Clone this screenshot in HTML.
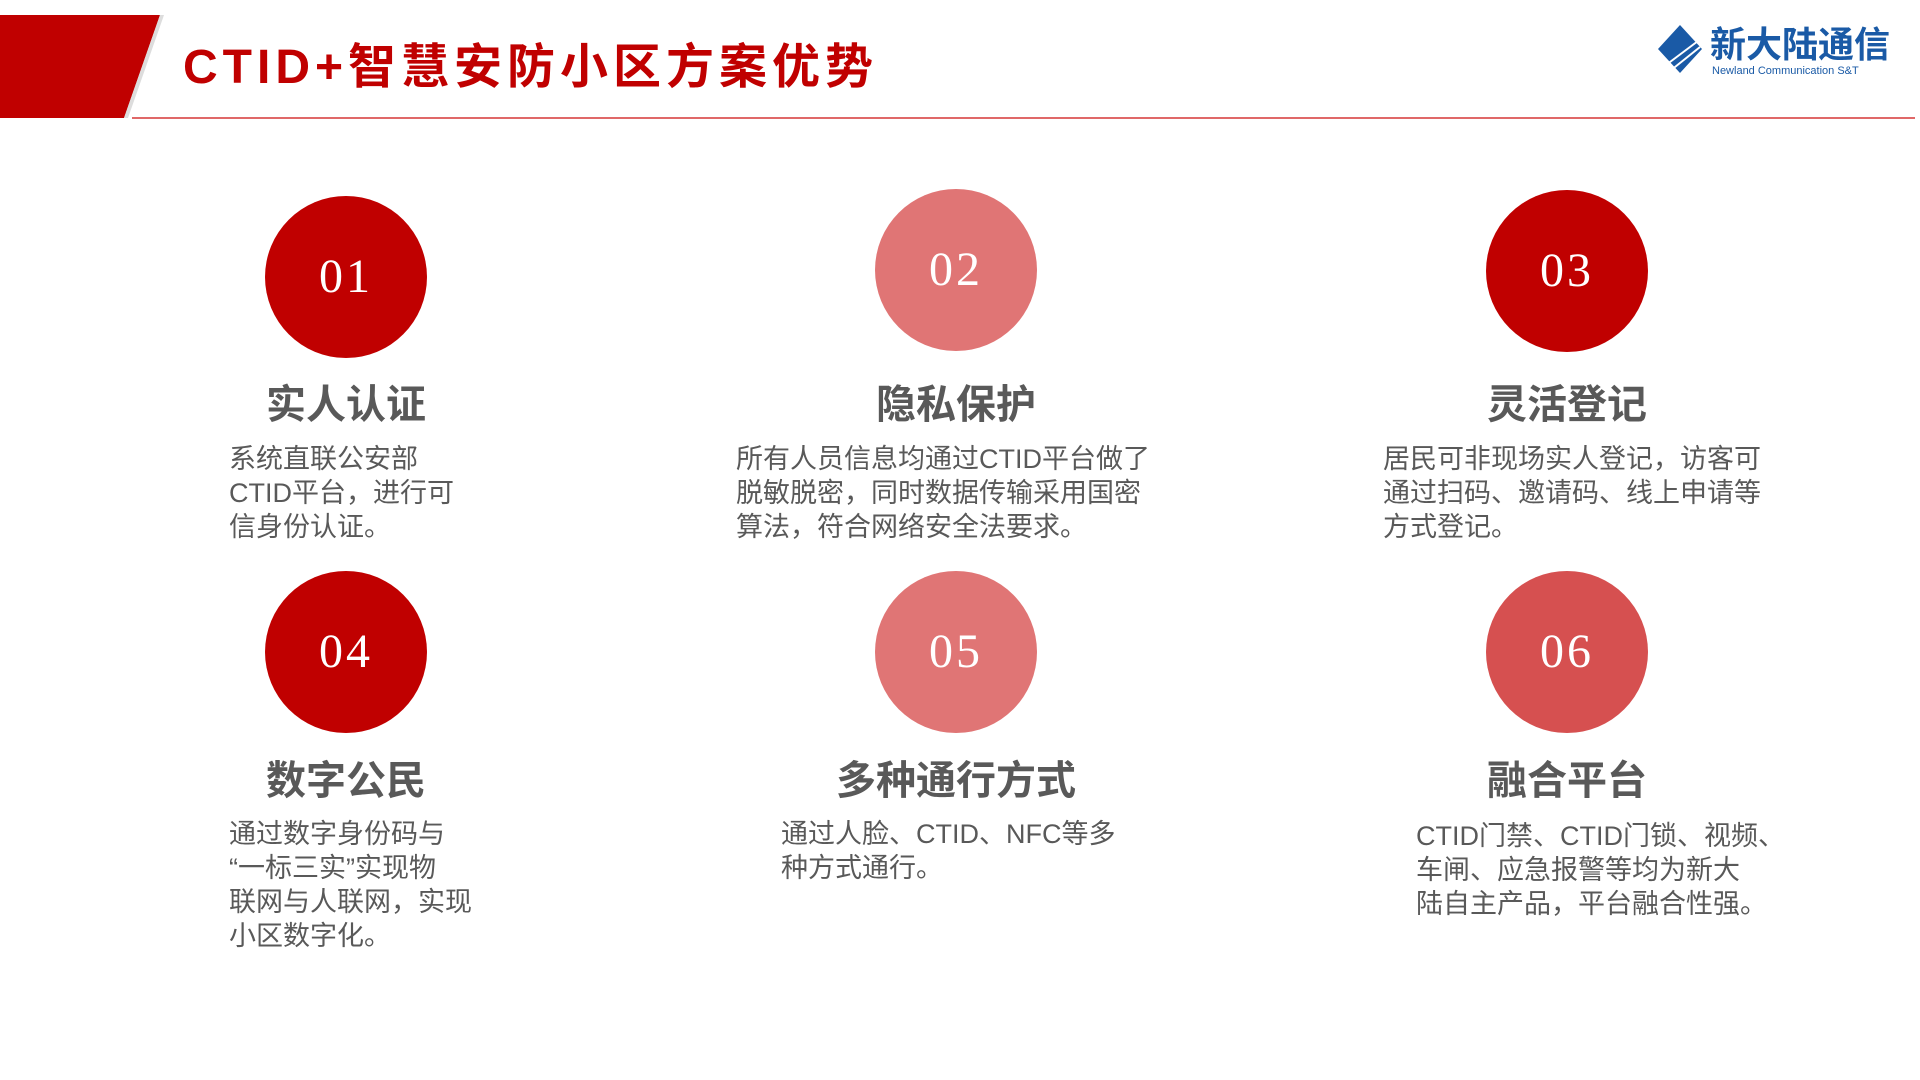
<!DOCTYPE html>
<html><head><meta charset="utf-8"><style>
body{margin:0;width:1920px;height:1080px;background:#fff;position:relative;overflow:hidden;font-family:"Liberation Sans","Noto Sans CJK SC",sans-serif}
.a{position:absolute}
.c{position:absolute;width:162px;height:162px;border-radius:50%;color:#fff;font-family:"Liberation Serif",serif;font-size:48px;line-height:162px;text-align:center;letter-spacing:3px}
.t{position:absolute;width:400px;text-align:center;font-size:40px;font-weight:bold;color:#595959;line-height:50px}
.b{position:absolute;font-size:27px;line-height:34px;color:#595959;white-space:nowrap}
</style></head><body>
<svg class="a" style="left:0;top:0" width="170" height="125"><polygon points="0,15 160,15 124,118 0,118" fill="#c00000"/><polygon points="160,15 164,15 128,118 124,118" fill="#ddd"/></svg>
<div class="a" style="left:183px;top:38px;font-size:48px;font-weight:bold;color:#c00000;line-height:60px;letter-spacing:5px">CTID+智慧安防小区方案优势</div>
<div class="a" style="left:132px;top:117px;width:1783px;height:2px;background:#e06868"></div>
<svg class="a" style="left:1658px;top:25px" width="50" height="60"><polygon points="22,0 44,24 22,48 0,24" fill="#1a5aa6"/><g stroke="#fff" stroke-width="2"><line x1="8" y1="40" x2="40" y2="16"/><line x1="12" y1="46" x2="42" y2="22"/></g></svg>
<div class="a" style="left:1710px;top:24px;font-size:36px;font-weight:bold;color:#1a5aa6;line-height:42px">新大陆通信</div>
<div class="a" style="left:1712px;top:65px;font-size:11px;color:#1a5aa6">Newland Communication S&amp;T</div>

<div class="c" style="left:265px;top:196px;background:#c00000">01</div>
<div class="c" style="left:875px;top:189px;background:#e07575">02</div>
<div class="c" style="left:1486px;top:190px;background:#c00000">03</div>
<div class="c" style="left:265px;top:571px;background:#c00000">04</div>
<div class="c" style="left:875px;top:571px;background:#e07575">05</div>
<div class="c" style="left:1486px;top:571px;background:#d65050">06</div>

<div class="t" style="left:146px;top:380px">实人认证</div>
<div class="t" style="left:756px;top:380px">隐私保护</div>
<div class="t" style="left:1367px;top:380px">灵活登记</div>
<div class="t" style="left:146px;top:756px">数字公民</div>
<div class="t" style="left:756px;top:756px">多种通行方式</div>
<div class="t" style="left:1367px;top:756px">融合平台</div>

<div class="b" style="left:229px;top:442px">系统直联公安部<br>CTID平台，进行可<br>信身份认证。</div>
<div class="b" style="left:736px;top:442px">所有人员信息均通过CTID平台做了<br>脱敏脱密，同时数据传输采用国密<br>算法，符合网络安全法要求。</div>
<div class="b" style="left:1383px;top:442px">居民可非现场实人登记，访客可<br>通过扫码、邀请码、线上申请等<br>方式登记。</div>
<div class="b" style="left:229px;top:817px">通过数字身份码与<br>“一标三实”实现物<br>联网与人联网，实现<br>小区数字化。</div>
<div class="b" style="left:781px;top:817px">通过人脸、CTID、NFC等多<br>种方式通行。</div>
<div class="b" style="left:1416px;top:819px">CTID门禁、CTID门锁、视频、<br>车闸、应急报警等均为新大<br>陆自主产品，平台融合性强。</div>
</body></html>
